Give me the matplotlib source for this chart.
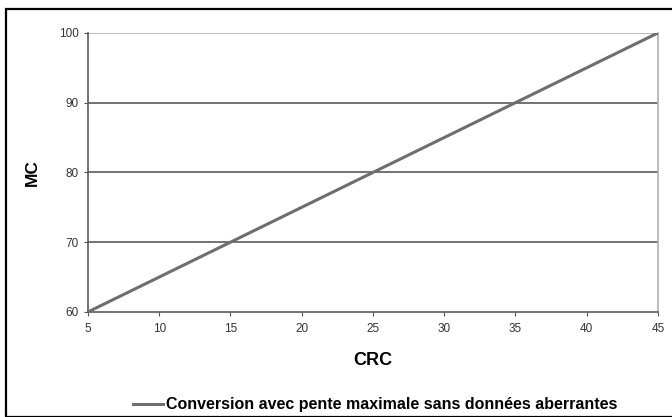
import matplotlib.pyplot as plt
from matplotlib.patches import Rectangle

plt.rcParams['font.family'] = ['Liberation Sans', 'DejaVu Sans']

crc = [5, 10, 15, 20, 25, 30, 35, 40, 45]
mc = [60, 65, 70, 75, 80, 85, 90, 95, 100]
xticks = [5, 10, 15, 20, 25, 30, 35, 40, 45]
yticks = [60, 70, 80, 90, 100]
label = 'Conversion avec pente maximale sans données aberrantes'

fig = plt.figure(figsize=(6.72, 4.17), dpi=100)
ax = fig.add_axes([0.131, 0.252, 0.848, 0.669])

# outer frame around the whole chart
fig.patches.append(Rectangle((6 / 672, 0), 1, 1 - 9 / 417, transform=fig.transFigure,
                             fill=False, edgecolor='black', linewidth=1.6, clip_on=False))

for y in yticks[1:-1]:
    ax.axhline(y, color='#5a5a5a', linewidth=1.2, zorder=1)
ax.axhline(yticks[-1], color='#b0b0b0', linewidth=1.2, zorder=1)

ax.plot(crc, mc, color='#6e6e6e', linewidth=2.2, label=label, zorder=3)

ax.set_xlim(5, 45)
ax.set_ylim(60, 100)
ax.set_xticks(xticks)
ax.set_yticks(yticks)
ax.tick_params(labelsize=8.5, length=3, color='#555555', labelcolor='#333333')
ax.tick_params(axis='x', pad=5)

ax.spines['top'].set_visible(False)
ax.spines['right'].set_color('#b0b0b0')
ax.spines['left'].set_color('#5a5a5a')
ax.spines['bottom'].set_color('#5a5a5a')
for s in ax.spines.values():
    s.set_linewidth(1.2)

ax.set_xlabel('CRC', fontsize=13, fontweight='bold', labelpad=12)
ax.set_ylabel('MC', fontsize=12.5, fontweight='bold', labelpad=14)

fig.legend(loc='center', bbox_to_anchor=(0.558, 0.029), frameon=False,
           prop={'size': 11.5, 'weight': 'bold'}, handlelength=1.9, handletextpad=0.2)

fig.savefig('out.png', dpi=100)
